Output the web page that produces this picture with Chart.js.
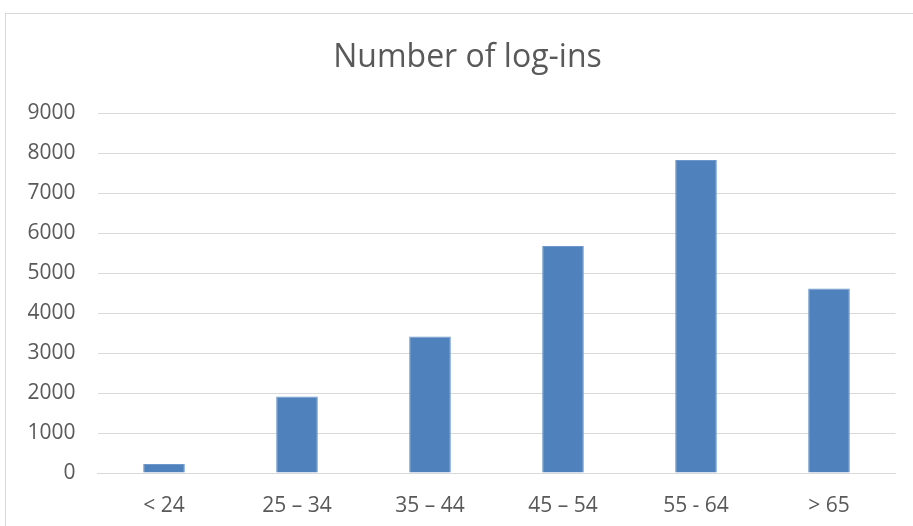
<!DOCTYPE html>
<html>
<head>
<meta charset="utf-8">
<script src="https://cdn.jsdelivr.net/npm/chart.js@4"></script>
<style>
  html, body { margin: 0; padding: 0; background: #fff; }
  body { width: 913px; height: 526px; overflow: hidden; position: relative; }
  #frame {
    position: absolute; left: 5px; top: 13px; width: 1000px; height: 600px;
    border: 1px solid #d9d9d9; box-sizing: border-box;
  }
  #wrap { position: absolute; left: 0; top: 0; width: 913px; height: 526px; }
</style>
</head>
<body>
<div id="frame"></div>
<div id="wrap"><canvas id="chart"></canvas></div>
<script>
const categories = ['< 24', '25 \u2013 34', '35 \u2013 44', '45 \u2013 54', '55 - 64', '> 65'];
const logins = [225, 1910, 3410, 5675, 7825, 4610];
const yTicks = [0, 1000, 2000, 3000, 4000, 5000, 6000, 7000, 8000, 9000];

const textColor = '#595959';
const gridColor = '#d9d9d9';

new Chart(document.getElementById('chart'), {
  type: 'bar',
  data: {
    labels: categories,
    datasets: [{
      label: 'Number of log-ins',
      data: logins,
      backgroundColor: '#4f81bd',
      borderColor: '#6e98cb',
      borderWidth: 1,
      categoryPercentage: 1,
      barPercentage: 0.313
    }]
  },
  options: {
    responsive: true,
    maintainAspectRatio: false,
    animation: false,
    layout: { padding: { left: 22, right: 0, top: 0, bottom: 0 } },
    plugins: {
      legend: { display: false },
      tooltip: { enabled: false },
      title: {
        display: true,
        text: 'Number of log-ins',
        color: textColor,
        font: { family: 'Open Sans', size: 32, weight: 'normal', lineHeight: 1.2 },
        padding: { top: 39, bottom: 35.6 }
      }
    },
    scales: {
      x: {
        grid: { display: false },
        border: { display: true, color: gridColor, width: 1 },
        ticks: {
          color: textColor,
          font: { family: 'Open Sans', size: 21 },
          padding: 12,
          maxRotation: 0
        },
        afterFit(scale) { scale.height = 53; }
      },
      y: {
        min: 0,
        max: 9000,
        afterBuildTicks(scale) { scale.ticks = yTicks.map(v => ({ value: v })); },
        grid: { color: gridColor, lineWidth: 1, drawTicks: false },
        border: { display: false },
        ticks: {
          color: textColor,
          font: { family: 'Open Sans', size: 21 },
          padding: 22,
          callback: v => String(v)
        },
        afterFit(scale) { scale.width = 75.5; }
      },
      yRight: {
        position: 'right',
        display: true,
        grid: { display: false, drawTicks: false },
        border: { display: false },
        ticks: { display: false },
        afterFit(scale) { scale.width = 17.5; }
      }
    }
  }
});
</script>
</body>
</html>
